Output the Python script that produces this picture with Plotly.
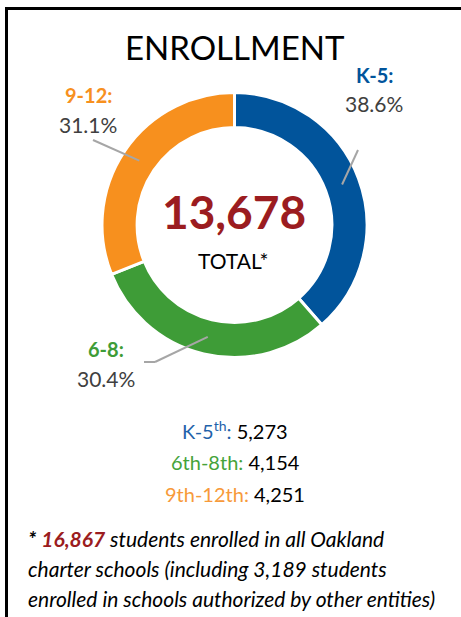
import math
import plotly.graph_objects as go

# ---- data ----
categories = ["K-5", "6-8", "9-12"]
enrollment = [5273, 4154, 4251]
pie_colors = ["#01549B", "#3E9C37", "#F7901E"]
label_colors = ["#01549B", "#3E9C37", "#F7901E"]
list_labels = ["K-5<sup>th</sup>", "6th-8th", "9th-12th"]
list_colors = ["#1F62AA", "#45A33A", "#F79A3A"]
total_district = 13678
total_all = 16867
other_entities = 3189

W, H = 461, 617
cx, cy, r_out, hole = 234.5, 225.0, 132.5, 0.735

def px(x):
    return x / W

def py(y):
    return 1 - y / H

fig = go.Figure()
fig.add_trace(go.Pie(
    labels=categories, values=enrollment, sort=False, direction="clockwise",
    rotation=0, hole=hole, textinfo="none", hoverinfo="label+percent",
    marker=dict(colors=pie_colors, line=dict(color="white", width=3)),
    domain=dict(x=[px(cx - r_out), px(cx + r_out)], y=[py(cy + r_out), py(cy - r_out)]),
    showlegend=False,
))

FONT = "Lato, Carlito, Calibri, sans-serif"
ann = []
shapes = []

def text(x, y, t, size, color, xanchor="center"):
    ann.append(dict(x=px(x), y=py(y), xref="paper", yref="paper", text=t, showarrow=False,
                    xanchor=xanchor, yanchor="middle",
                    font=dict(family=FONT, size=size, color=color)))

# title
text(235, 47, "ENROLLMENT", 33, "black")
# center
text(234, 211, "<b>%s</b>" % f"{total_district:,}", 46, "#9B1C20")
text(233, 260, "TOTAL*", 21, "black")

# slice labels + leader lines (start points from data)
tot = sum(enrollment)
cum = 0
mids = []
for v in enrollment:
    mids.append((cum + v / 2) / tot)
    cum += v
r_mid = r_out * (1 + hole) / 2

label_pos = {"K-5": (374, 75, 103), "9-12": (88, 95, 124), "6-8": (106, 349, 378)}
line_end = {"K-5": [(358, 150)], "9-12": [(93, 140)], "6-8": [(155, 362), (144, 362)]}
for cat, v, col, m in zip(categories, enrollment, label_colors, mids):
    lx, ly1, ly2 = label_pos[cat]
    text(lx, ly1, "<b>%s:</b>" % cat, 20, col)
    text(lx, ly2, "%.1f%%" % (100 * v / tot), 21, "#404040")
    a = 2 * math.pi * m
    sx = cx + r_mid * math.sin(a)
    sy = cy - r_mid * math.cos(a)
    pts = [(sx, sy)] + line_end[cat]
    for (x0, y0), (x1, y1) in zip(pts[:-1], pts[1:]):
        shapes.append(dict(type="line", xref="paper", yref="paper",
                           x0=px(x0), y0=py(y0), x1=px(x1), y1=py(y1),
                           line=dict(color="#A6A6A6", width=2)))

# list of counts
for i, (lab, col, v) in enumerate(zip(list_labels, list_colors, enrollment)):
    text(235, 430 + 32 * i,
         "<span style='color:%s'>%s:</span> %s" % (col, lab, f"{v:,}"), 20, "black")

# footnote
foot = [
    "<b>*</b> <b style='color:#9B1C20'>%s</b> students enrolled in all Oakland" % f"{total_all:,}",
    "charter schools (including %s students" % f"{other_entities:,}",
    "enrolled in schools authorized by other entities)",
]
for i, t in enumerate(foot):
    text(26, 538 + 30 * i, "<i>%s</i>" % t, 21, "black", xanchor="left")

# border
shapes.append(dict(type="rect", xref="paper", yref="paper", x0=px(6.5), y0=py(660),
                   x1=px(490), y1=py(8.5), line=dict(color="black", width=3)))

fig.update_layout(width=W, height=H, margin=dict(l=0, r=0, t=0, b=0),
                  paper_bgcolor="white", plot_bgcolor="white",
                  annotations=ann, shapes=shapes)
fig.write_html("out.html", config={"displayModeBar": False},
               post_script="document.body.style.margin='0';document.body.style.overflow='hidden';")
